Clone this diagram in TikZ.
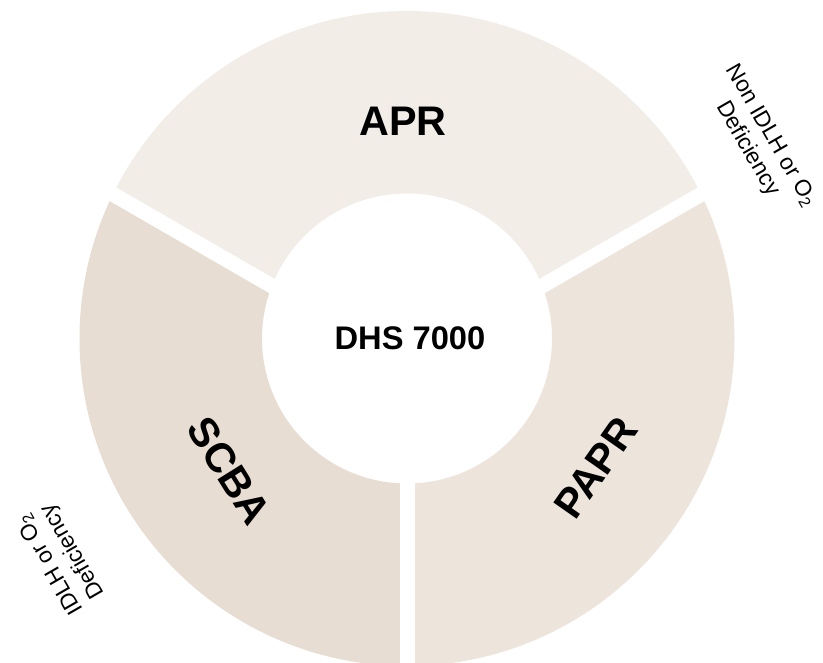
\documentclass[tikz,border=0pt]{standalone}
\usepackage{fontspec}
\setmainfont{Liberation Sans}
\usepackage{tikz}
\usetikzlibrary{positioning, calc}

\definecolor{aprfill}{HTML}{F2EDE7}
\definecolor{paprfill}{HTML}{EDE5DC}
\definecolor{scbafill}{HTML}{E7DDD2}

\begin{document}
\begin{tikzpicture}[
    x=0.75pt, y=0.75pt,
    segment/.style={even odd rule},
    gapline/.style={draw=white, line width=11.25pt},
    seglabel/.style={font=\fontsize{31}{36}\selectfont\bfseries, text=black},
    hublabel/.style={font=\fontsize{24.5}{29}\selectfont\bfseries, text=black},
    sidenote/.style={font=\fontsize{17}{20}\selectfont, align=center, inner sep=0pt}
]
\useasboundingbox (-407,-323.5) rectangle (416,338.5);

% Centre of the ring and meeting point of the gaps
\coordinate (centre) at (0,0);
\coordinate (hub) at (0,-25.5);

% APR segment
\begin{scope}
  \clip (hub) -- (606.2,324.5) -- (700,700) -- (-700,700) -- (-606.2,324.5) -- cycle;
  \fill[aprfill, segment] (centre) circle (327.5) (centre) circle (145);
\end{scope}

% PAPR segment
\begin{scope}
  \clip (hub) -- (606.2,324.5) -- (700,-700) -- (0,-700) -- cycle;
  \fill[paprfill, segment] (centre) circle (327.5) (centre) circle (145);
\end{scope}

% SCBA segment
\begin{scope}
  \clip (hub) -- (-606.2,324.5) -- (-700,-700) -- (0,-700) -- cycle;
  \fill[scbafill, segment] (centre) circle (327.5) (centre) circle (145);
\end{scope}

% Gaps
\draw[gapline] (hub) -- ++(30:700);
\draw[gapline] (hub) -- ++(150:700);
\draw[gapline] (hub) -- ++(270:700);

% Labels
\node[seglabel] (apr) at (-4,217.5) {APR};
\node[seglabel, rotate=-58] (scba) at (-178,-132.5) {SCBA};
\node[seglabel, rotate=55] (papr) at (189,-129.5) {PAPR};
\node[hublabel] (dhs) at (3,0.5) {DHS 7000};

% Side notes
\node[sidenote, rotate=-60] (nonidlh) at (352,196) {Non IDLH or O\textsubscript{2}\\Deficiency};
\node[sidenote, rotate=120] (idlh) at (-345,-219) {IDLH or O\textsubscript{2}\\Deficiency};

\end{tikzpicture}
\end{document}
